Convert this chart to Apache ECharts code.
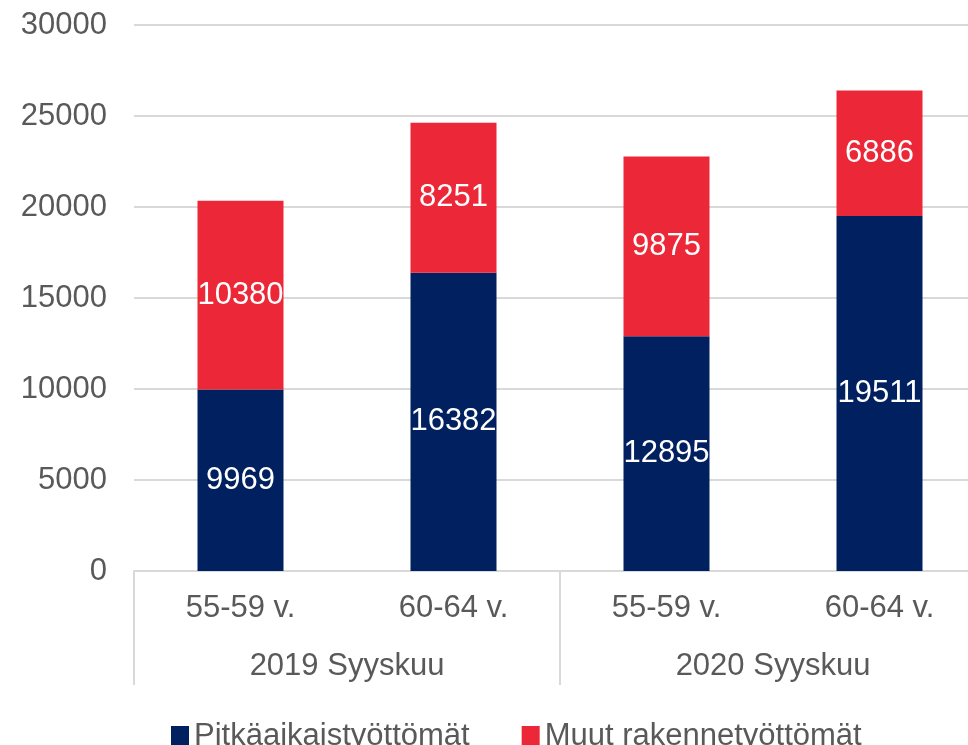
<!DOCTYPE html>
<html lang="fi">
<head>
    <meta charset="UTF-8">
    <title>Pitkäaikaistyöttömät ja muut rakennetyöttömät</title>
    <script src="https://cdn.jsdelivr.net/npm/echarts@6/dist/echarts.min.js"></script>
    <style>
        html, body { margin: 0; padding: 0; background: #fff; overflow: hidden; }
        /* wider than the window: the original is cropped at the right edge */
        #main { width: 1004px; height: 745px; }
    </style>
</head>
<body>
<div id="main"></div>
<script>
    // data
    var ageGroups = ['55-59 v.', '60-64 v.', '55-59 v.', '60-64 v.'];
    var periods = ['2019 Syyskuu', '2020 Syyskuu'];
    var longTerm = [9969, 16382, 12895, 19511];
    var otherStructural = [10380, 8251, 9875, 6886];
    var seriesNames = ['Pitkäaikaistyöttömät', 'Muut rakennetyöttömät'];

    var font = 'Liberation Sans, Arial, sans-serif';
    var textGray = '#595959';
    var lineGray = '#d9d9d9';

    var chart = echarts.init(document.getElementById('main'));

    var labelStyle = {
        show: true,
        position: 'inside',
        color: '#fff',
        fontFamily: font,
        fontSize: 31,
        textBorderWidth: 0
    };

    chart.setOption({
        animation: false,
        color: ['#002060', '#ec2737'],
        grid: { left: 134, top: 25, width: 852, height: 546 },
        legend: {
            data: seriesNames,
            left: 166,
            top: 716,
            icon: 'rect',
            itemWidth: 18,
            itemHeight: 21,
            itemGap: 52,
            textStyle: { fontFamily: font, fontSize: 31, color: textGray }
        },
        xAxis: [{
            type: 'category',
            data: ageGroups,
            axisLine: { lineStyle: { color: lineGray, width: 2 } },
            axisTick: { show: false },
            axisLabel: { margin: 22, fontFamily: font, fontSize: 31, color: textGray }
        }, {
            type: 'category',
            data: periods,
            position: 'bottom',
            axisLine: { show: false },
            axisTick: { show: true, length: 114, lineStyle: { color: lineGray, width: 2 } },
            axisLabel: { margin: 80, fontFamily: font, fontSize: 31, color: textGray }
        }],
        yAxis: {
            type: 'value',
            min: 0,
            max: 30000,
            interval: 5000,
            axisLine: { show: false },
            axisTick: { show: false },
            splitLine: { lineStyle: { color: lineGray, width: 2 } },
            axisLabel: {
                margin: 27, fontFamily: font, fontSize: 31, color: textGray,
                formatter: function (v) { return String(v); }
            }
        },
        series: [{
            name: seriesNames[0],
            type: 'bar',
            stack: 'total',
            barWidth: 86,
            data: longTerm,
            label: labelStyle
        }, {
            name: seriesNames[1],
            type: 'bar',
            stack: 'total',
            barWidth: 86,
            data: otherStructural,
            label: labelStyle
        }]
    });
</script>
</body>
</html>
